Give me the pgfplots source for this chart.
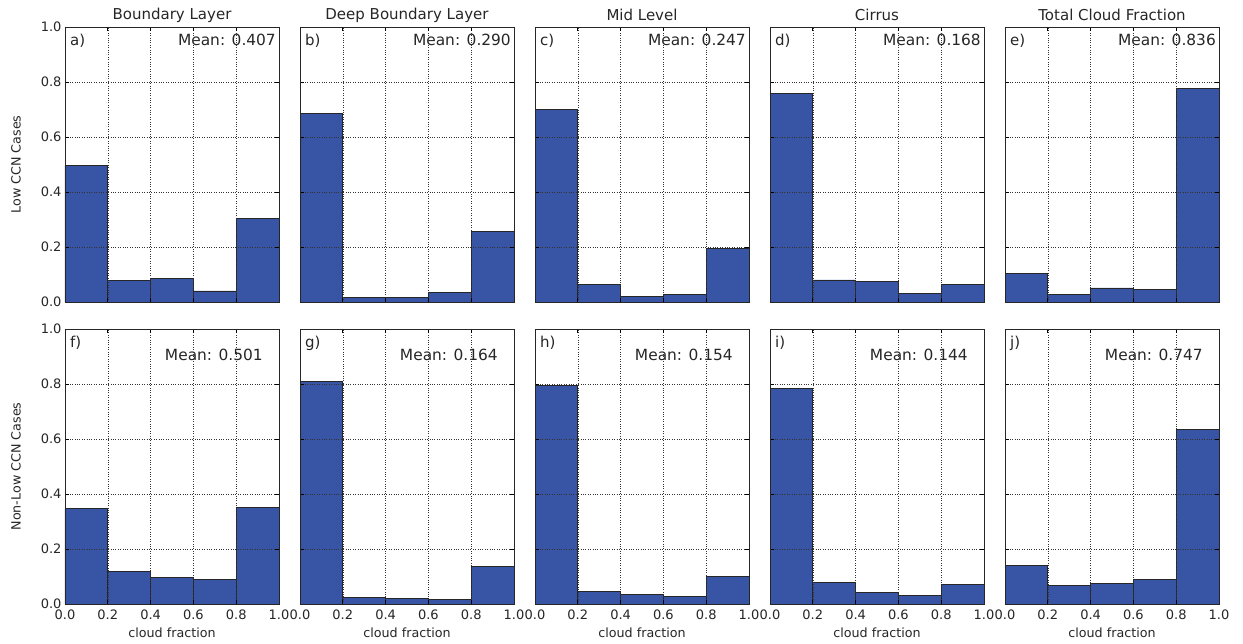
\documentclass[border=0pt]{standalone}
\usepackage{pgfplots}
\pgfplotsset{compat=1.18}
\usepackage{fontspec}
\setmainfont{DejaVu Sans}
\definecolor{barblue}{RGB}{56,84,164}
\definecolor{txt}{RGB}{38,38,38}

\pgfplotsset{
  cf/.style={
    width=214pt, height=275pt, scale only axis, anchor=south west,
    xmin=0, xmax=1, ymin=0, ymax=1,
    xtick={0,0.2,0.4,0.6,0.8,1}, ytick={0,0.2,0.4,0.6,0.8,1},
    grid=major, grid style={dotted, black!80, line width=0.6pt},
    axis on top,
    tick align=inside, major tick length=4pt,
    tick style={black, line width=0.9pt},
    axis line style={black!85, line width=0.9pt},
    /pgf/number format/.cd, fixed, fixed zerofill, precision=1, assume math mode=true,
    /pgfplots/.cd,
    ticklabel style={font=\fontsize{13}{15}\selectfont, text=txt},
    xticklabel style={yshift=-2.5pt},
    every axis title/.style={at={(axis description cs:0.5,1.0436)}, anchor=center,
      font=\fontsize{15}{17}\selectfont, text=txt},
    every axis y label/.style={at={(axis description cs:-0.229,0.5)}, rotate=90, anchor=center,
      font=\fontsize{12.7}{15}\selectfont, text=txt},
    every axis x label/.style={at={(axis description cs:0.5,-0.105)}, anchor=center,
      font=\fontsize{12.7}{15}\selectfont, text=txt},
  },
  toprow/.style={cf, xticklabels={}},
  botrow/.style={cf, xlabel={cloud fraction}},
  noy/.style={yticklabels={}},
  hbar/.style={ybar interval, fill=barblue, draw=black!85, line width=0.9pt},
}
\newcommand{\plab}[1]{\node[anchor=north west, inner sep=0pt, font=\fontsize{15}{17}\selectfont, text=txt] at (axis description cs:0.023,0.975) {#1};}
\newcommand{\tmean}[1]{\node[anchor=north east, inner sep=0pt, font=\fontsize{15.4}{17}\selectfont, text=txt] at (axis description cs:0.986,0.975) {Mean: #1};}
\newcommand{\bmean}[1]{\node[anchor=north east, inner sep=0pt, font=\fontsize{15.4}{17}\selectfont, text=txt] at (axis description cs:0.925,0.927) {Mean: #1};}

\begin{document}
\begin{tikzpicture}
% ---- top row ----
\begin{axis}[toprow, at={(65pt,341pt)}, title={Boundary Layer}, ylabel={Low CCN Cases}]
\addplot[hbar] coordinates {(0,0.497)(0.2,0.078)(0.4,0.087)(0.6,0.040)(0.8,0.302)(1,0.302)};
\plab{a)}\tmean{0.407}
\end{axis}
\begin{axis}[toprow, noy, at={(300pt,341pt)}, title={Deep Boundary Layer}]
\addplot[hbar] coordinates {(0,0.684)(0.2,0.016)(0.4,0.016)(0.6,0.033)(0.8,0.257)(1,0.257)};
\plab{b)}\tmean{0.290}
\end{axis}
\begin{axis}[toprow, noy, at={(535pt,341pt)}, title={Mid Level}]
\addplot[hbar] coordinates {(0,0.699)(0.2,0.062)(0.4,0.020)(0.6,0.029)(0.8,0.196)(1,0.196)};
\plab{c)}\tmean{0.247}
\end{axis}
\begin{axis}[toprow, noy, at={(770pt,341pt)}, title={Cirrus}]
\addplot[hbar] coordinates {(0,0.759)(0.2,0.080)(0.4,0.076)(0.6,0.030)(0.8,0.062)(1,0.062)};
\plab{d)}\tmean{0.168}
\end{axis}
\begin{axis}[toprow, noy, at={(1005pt,341pt)}, title={Total Cloud Fraction}]
\addplot[hbar] coordinates {(0,0.104)(0.2,0.027)(0.4,0.051)(0.6,0.047)(0.8,0.777)(1,0.777)};
\plab{e)}\tmean{0.836}
\end{axis}
% ---- bottom row ----
\begin{axis}[botrow, at={(65pt,39pt)}, ylabel={Non-Low CCN Cases}]
\addplot[hbar] coordinates {(0,0.347)(0.2,0.118)(0.4,0.098)(0.6,0.090)(0.8,0.350)(1,0.350)};
\plab{f)}\bmean{0.501}
\end{axis}
\begin{axis}[botrow, noy, at={(300pt,39pt)}]
\addplot[hbar] coordinates {(0,0.808)(0.2,0.022)(0.4,0.019)(0.6,0.017)(0.8,0.137)(1,0.137)};
\plab{g)}\bmean{0.164}
\end{axis}
\begin{axis}[botrow, noy, at={(535pt,39pt)}]
\addplot[hbar] coordinates {(0,0.793)(0.2,0.047)(0.4,0.035)(0.6,0.029)(0.8,0.099)(1,0.099)};
\plab{h)}\bmean{0.154}
\end{axis}
\begin{axis}[botrow, noy, at={(770pt,39pt)}]
\addplot[hbar] coordinates {(0,0.784)(0.2,0.078)(0.4,0.042)(0.6,0.032)(0.8,0.070)(1,0.070)};
\plab{i)}\bmean{0.144}
\end{axis}
\begin{axis}[botrow, noy, at={(1005pt,39pt)}]
\addplot[hbar] coordinates {(0,0.141)(0.2,0.068)(0.4,0.073)(0.6,0.088)(0.8,0.635)(1,0.635)};
\plab{j)}\bmean{0.747}
\end{axis}
\pgfresetboundingbox
\useasboundingbox (0,0) rectangle (1243pt,643pt);
\end{tikzpicture}
\end{document}
